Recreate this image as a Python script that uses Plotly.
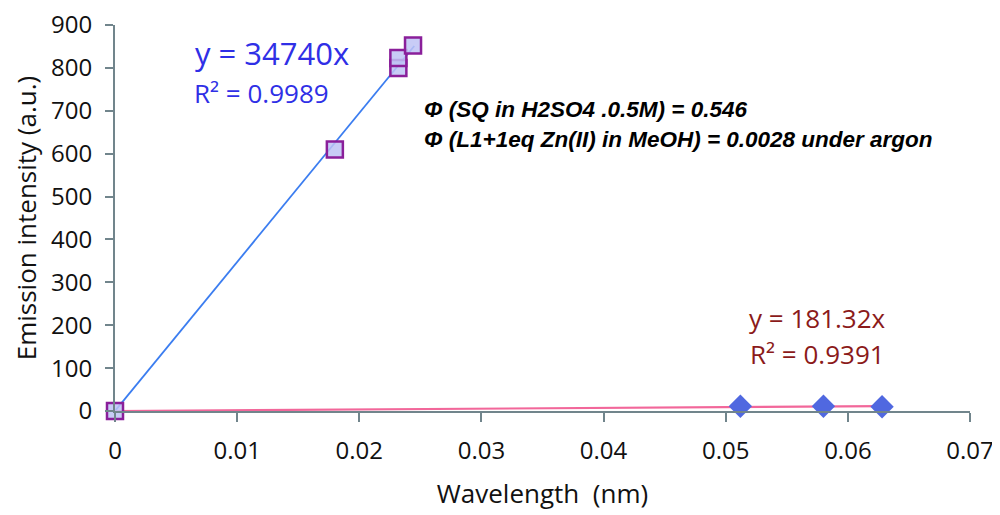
import plotly.graph_objects as go

# Data
sq_x = [0.0, 0.0180, 0.0232, 0.0232, 0.0244]
sq_y = [0, 610, 800, 823, 852]
dia_x = [0.0512, 0.0580, 0.0628]
dia_y = [11, 11, 10]
slope_sq = 34740
slope_dia = 181.32
fit_sq_x = [0.0, 0.0245]
fit_dia_x = [0.0, 0.0628]
x_ticks = [0, 0.01, 0.02, 0.03, 0.04, 0.05, 0.06, 0.07]
x_tick_text = ["0", "0.01", "0.02", "0.03", "0.04", "0.05", "0.06", "0.07"]
y_ticks = [0, 100, 200, 300, 400, 500, 600, 700, 800, 900]

fig = go.Figure()
fig.add_trace(go.Scatter(x=fit_sq_x, y=[slope_sq * v for v in fit_sq_x], mode="lines",
                         line=dict(color="#3b7df0", width=1.8), cliponaxis=False, showlegend=False))
fig.add_trace(go.Scatter(x=fit_dia_x, y=[slope_dia * v for v in fit_dia_x], mode="lines",
                         line=dict(color="#f2679a", width=2.2), cliponaxis=False, showlegend=False))
fig.add_trace(go.Scatter(x=sq_x, y=sq_y, mode="markers", cliponaxis=False, showlegend=False,
                         marker=dict(symbol="square", size=16, color="rgba(190,195,245,0.85)",
                                     line=dict(color="#8a1f9a", width=2.5))))
fig.add_trace(go.Scatter(x=dia_x, y=dia_y, mode="markers", cliponaxis=False, showlegend=False,
                         marker=dict(symbol="diamond", size=18, color="#5068e0",
                                     line=dict(color="#5068e0", width=0))))

font_main = "Open Sans, Noto Sans, sans-serif"
axis_col = "#71858c"
fig.update_layout(
    width=992, height=507,
    margin=dict(l=107, r=30, t=17, b=104),
    paper_bgcolor="white", plot_bgcolor="white",
    font=dict(family=font_main, color="#111111"),
    xaxis=dict(range=[0, 0.07], tickvals=x_ticks, ticktext=x_tick_text, automargin=False,
               showgrid=False, zeroline=False, showline=True, linecolor=axis_col, linewidth=2,
               ticks="outside", ticklen=9, tickwidth=2, tickcolor=axis_col, ticklabelstandoff=8,
               ticklabeloverflow="allow",
               tickfont=dict(size=24), title=dict(text="Wavelength  (nm)", font=dict(size=26), standoff=20)),
    yaxis=dict(range=[0, 900], tickvals=y_ticks, automargin=False,
               showgrid=False, zeroline=False, showline=True, linecolor=axis_col, linewidth=2,
               ticks="outside", ticklen=8, tickwidth=2, tickcolor=axis_col, ticklabelstandoff=8,
               ticklabeloverflow="allow",
               tickfont=dict(size=24), title=dict(text="Emission intensity (a.u.)", font=dict(size=26), standoff=7)),
)

fig.add_annotation(x=0.0064, y=835, xref="x", yref="y", text="y = 34740x", showarrow=False,
                   xanchor="left", yanchor="middle", font=dict(size=31, color="#2f2fe6", family=font_main))
fig.add_annotation(x=0.0063, y=742, xref="x", yref="y", text="R² = 0.9989", showarrow=False,
                   xanchor="left", yanchor="middle", font=dict(size=26, color="#2f2fe6", family=font_main))
fig.add_annotation(x=0.0575, y=218, xref="x", yref="y", text="y = 181.32x", showarrow=False,
                   xanchor="center", yanchor="middle", font=dict(size=26, color="#8b1a1a", family=font_main))
fig.add_annotation(x=0.0575, y=134, xref="x", yref="y", text="R² = 0.9391", showarrow=False,
                   xanchor="center", yanchor="middle", font=dict(size=26, color="#8b1a1a", family=font_main))
fig.add_annotation(x=0.0251, y=704, xref="x", yref="y",
                   text="<b><i>Φ (SQ in H2SO4 .0.5M) = 0.546</i></b>", showarrow=False,
                   xanchor="left", yanchor="middle", font=dict(size=22.5, color="black", family="Liberation Sans, Arial"))
fig.add_annotation(x=0.0251, y=632, xref="x", yref="y",
                   text="<b><i>Φ (L1+1eq Zn(II) in MeOH) = 0.0028 under argon</i></b>", showarrow=False,
                   xanchor="left", yanchor="middle", font=dict(size=22.5, color="black", family="Liberation Sans, Arial"))

fig.write_html("out.html")
